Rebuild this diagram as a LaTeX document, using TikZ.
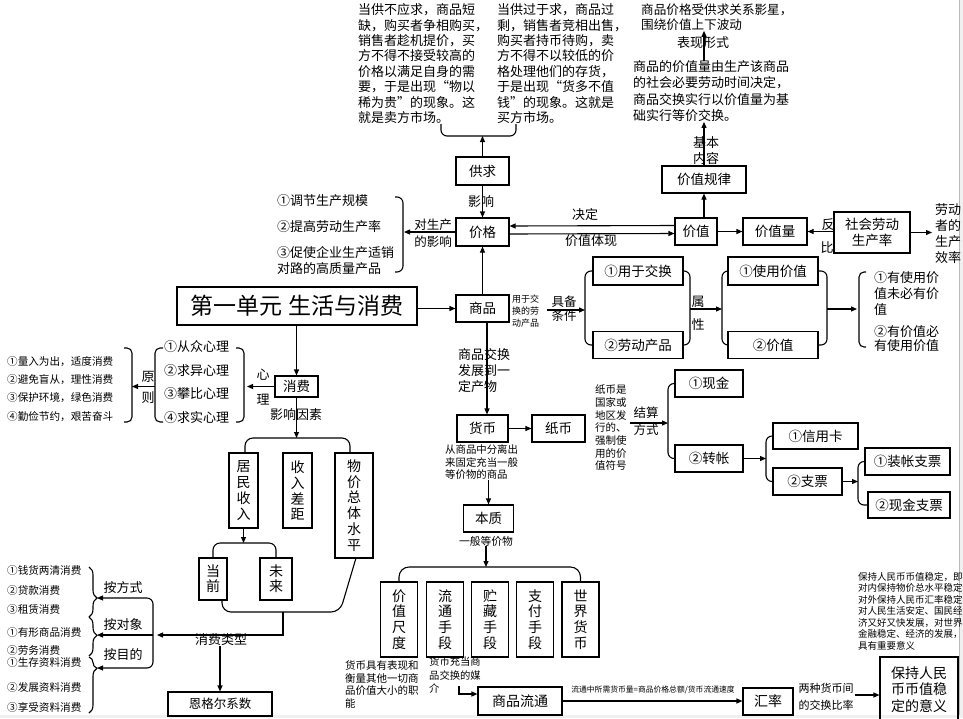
\documentclass[tikz,border=0pt]{standalone}
\usepackage{fontspec}
\setmainfont{Noto Sans CJK SC}
\usetikzlibrary{arrows.meta,decorations.pathreplacing}
\newcommand{\FZ}[2]{\fontsize{#1}{#2}\selectfont}
\begin{document}
\begin{tikzpicture}[x=1pt,y=-1pt,
 bx/.style={draw,line width=1.1pt,inner sep=0pt,align=center,font=\FZ{13.5}{16}},
 vb/.style={bx,font=\FZ{14}{15.8}},
 ar/.style={-{Triangle[length=6pt,width=5pt]},line width=1.1pt},
 ln/.style={line width=1.1pt},
 brk/.style={line width=1.1pt,rounded corners=6pt},
 tx/.style={inner sep=0pt,align=left},
 tc/.style={inner sep=0pt,align=center},
 t13/.style={tc,font=\FZ{13}{16}},
 s13/.style={inner sep=0pt,anchor=west,font=\FZ{13}{16}},
 s10/.style={inner sep=0pt,anchor=west,font=\FZ{10.6}{12}}]
\useasboundingbox (0,0) rectangle (963,718);
\clip (0,0) rectangle (963,718);
\fill[gray!12] (959,0) rectangle (963,718);
\draw[gray!55,line width=0.8pt] (959,0) -- (959,718);
\fill[gray!12] (0,715) rectangle (963,718);

% ---------- top: supply and demand ----------
\node[tx,anchor=north west,font=\FZ{13}{15.4}] (sd1) at (358,3.5) {当供不应求，商品短\\缺，购买者争相购买，\\销售者趁机提价，买\\方不得不接受较高的\\价格以满足自身的需\\要，于是出现“物以\\稀为贵”的现象。这\\就是卖方市场。};
\node[tx,anchor=north west,font=\FZ{13}{15.4}] (sd2) at (497,3.5) {当供过于求，商品过\\剩，销售者竞相出售，\\购买者持币待购，卖\\方不得不以较低的价\\格处理他们的存货，\\于是出现“货多不值\\钱”的现象。这就是\\买方市场。};
\draw[brk] (441,124) -- (441,136) -- (516,136) -- (516,124);
\coordinate (bmid) at (479,136);

\node[bx,minimum width=53pt,minimum height=28pt] (gq) at (482.5,171) {供求};
\node[bx,minimum width=53pt,minimum height=28pt] (jg) at (482.5,232) {价格};
\draw[ar] (gq.north) -- (gq.north |- bmid);
\node[t13] (yx) at (481,202) {影响};
\draw[ar] (gq.south) -- (jg.north);

% ---------- left of price ----------
\coordinate (lb) at (404,232);
\draw[ar] (jg.west) -- (lb);
\node[tc,font=\FZ{12.5}{17}] (dsc) at (433,233.5) {对生产\\的影响};
\draw[brk] (395,197) -- (403,197) -- (403,272) -- (395,272);
\node[s13] (i1) at (277,201) {①调节生产规模};
\node[s13] (i2) at (277,227) {②提高劳动生产率};
\node[tx,anchor=north west,font=\FZ{13}{16}] (i3) at (277,246.5) {③促使企业生产适销\\对路的高质量产品};

% ---------- value side ----------
\node[bx,minimum width=42pt,minimum height=27pt] (jz) at (696,231.5) {价值};
\draw[ar] ([yshift=-2pt]jg.east) -- ([yshift=-2pt]jz.west);
\draw[ar] ([yshift=6pt]jz.west) -- ([yshift=6pt]jg.east);
\node[t13] (jd) at (585,215) {决定};
\node[t13] (jztx) at (591,241) {价值体现};

\node[bx,minimum width=64pt,minimum height=27pt] (jzl) at (775,231.5) {价值量};
\node[bx,minimum width=76pt,minimum height=41pt] (sh) at (872,232.5) {社会劳动\\生产率};
\draw[ar] (jz) -- (jzl);
\draw[ar] (sh.west |- jzl.east) -- (jzl.east);
\node[t13] (fan) at (828,225) {反};
\node[t13] (bi) at (827,248) {比};
\coordinate (xl) at (932,232.5);
\draw[ar] (sh.east) -- (xl);
\node[tx,anchor=north west,font=\FZ{13}{16}] (ldz) at (935,203.5) {劳动\\者的\\生产\\效率};

\node[bx,minimum width=84pt,minimum height=27pt] (gl) at (704,179.5) {价值规律};
\draw[ar] (gl.south |- jz.north) -- (gl.south);
\node[tx,anchor=north west,font=\FZ{13}{16.3}] (nr) at (633,60.5) {商品的价值量由生产该商品\\的社会必要劳动时间决定，\\商品交换实行以价值量为基\\础实行等价交换。};
\draw[ar] (gl.north) -- (gl.north |- nr.south);
\node[tc,font=\FZ{13}{15.5}] (jbnr) at (706,150.5) {基本\\内容};
\node[tx,anchor=north west,font=\FZ{12.6}{15}] (bxt) at (641,3.7) {商品价格受供求关系影星，\\围绕价值上下波动};
\draw[ar] (gl.north |- nr.north) -- (gl.north |- bxt.south);
\node[t13] (bxxs) at (703,43) {表现形式};

% ---------- main & commodity ----------
\node[bx,minimum width=240pt,minimum height=38pt,font=\FZ{23}{26}] (main) at (297,306) {第一单元 生活与消费};
\node[bx,minimum width=53pt,minimum height=27pt] (sp) at (482.5,308.5) {商品};
\draw[ar] (main.east |- sp.west) -- (sp.west);
\draw[ar] (sp.north) -- (jg.south);

\node[tx,anchor=north west,font=\FZ{9}{12}] (yyjh) at (512,294.5) {用于交\\换的劳\\动产品};
\node[tc,font=\FZ{12.5}{13.5}] (jbtj) at (564,308.5) {具备\\条件};
\coordinate (g1l) at (585,310);
\draw[ar] (547,310) -- (g1l);

\node[bx,minimum width=90pt,minimum height=28pt] (yyjh1) at (638,271) {①用于交换};
\node[bx,minimum width=90pt,minimum height=27pt] (ldcp) at (638,345) {②劳动产品};
\draw[brk] (yyjh1.west) -- (585,271) -- (585,345) -- (ldcp.west);
\draw[brk] (yyjh1.east) -- (690,271) -- (690,345) -- (ldcp.east);
\coordinate (g2l) at (722,309);
\draw[ar] (690,309) -- (g2l);
\node[tc,font=\FZ{13}{23}] (sx) at (698,313.5) {属\\性};

\node[bx,minimum width=90pt,minimum height=28pt] (syjz) at (773,271) {①使用价值};
\node[bx,minimum width=90pt,minimum height=27pt] (jz2) at (773,345) {②价值};
\draw[brk] (syjz.west) -- (722,271) -- (722,345) -- (jz2.west);
\draw[brk] (syjz.east) -- (827,271) -- (827,345) -- (jz2.east);
\coordinate (g3l) at (857,309);
\draw[ar] (827,309) -- (g3l);
\draw[brk,rounded corners=5pt] (866,272) -- (859,272) -- (859,347) -- (866,347);
\node[tx,anchor=north west,font=\FZ{13}{16}] (yy1) at (874,271.5) {①有使用价\\值未必有价\\值};
\node[tx,anchor=north west,font=\FZ{13}{13.5}] (yy2) at (874,325.5) {②有价值必\\有使用价值};

% ---------- consumption ----------
\node[bx,minimum width=43pt,minimum height=21pt] (xf) at (296.5,386.5) {消费};
\draw[ar] (main.south -| xf.north) -- (xf.north);
\coordinate (xlb) at (247,386.5);
\draw[ar] (xf.west) -- (xlb);
\node[t13] (xin) at (263,375) {心};
\node[t13] (li) at (263,400) {理};
\draw[brk,rounded corners=5pt] (163,348) -- (155,348) -- (155,422) -- (163,422);
\draw[brk,rounded corners=5pt] (236,348) -- (244,348) -- (244,422) -- (236,422);
\node[s13] (x1) at (164,347) {①从众心理};
\node[s13] (x2) at (164,370.5) {②求异心理};
\node[s13] (x3) at (164,394) {③攀比心理};
\node[s13] (x4) at (164,417.5) {④求实心理};
\coordinate (ylb) at (132,386.5);
\draw[ar] (155,386.5) -- (ylb);
\node[t13] (yuan) at (148,377) {原};
\node[t13] (ze) at (148,398) {则};
\draw[brk,rounded corners=5pt] (124,348) -- (132,348) -- (132,422) -- (124,422);
\node[s10] (y1) at (7,362) {①量入为出，适度消费};
\node[s10] (y2) at (7,380) {②避免盲从，理性消费};
\node[s10] (y3) at (7,398) {③保护环境，绿色消费};
\node[s10] (y4) at (7,417) {④勤俭节约，艰苦奋斗};

\node[t13] (yxys) at (296,415) {影响因素};
\coordinate (fb) at (296.5,438);
\draw[ar] (xf.south) -- (fb);
\draw[brk,rounded corners=8pt] (245,453) -- (245,438) -- (350,438) -- (350,453);
\node[vb,minimum width=29pt,minimum height=75pt] (jmsr) at (243.5,490.5) {居\\民\\收\\入};
\node[vb,minimum width=29pt,minimum height=75pt] (srcj) at (297.5,490.5) {收\\入\\差\\距};
\node[vb,minimum width=38pt,minimum height=105pt] (wj) at (354,505.5) {物\\价\\总\\体\\水\\平};
\coordinate (jb) at (243.5,543);
\draw[ar] (jmsr.south) -- (jb);
\draw[brk,rounded corners=7pt] (213,558) -- (213,543) -- (276,543) -- (276,558);
\node[vb,minimum width=28pt,minimum height=42pt,font=\FZ{14}{15}] (dq) at (213,579) {当\\前};
\node[vb,minimum width=32pt,minimum height=42pt,font=\FZ{14}{15}] (wl) at (276,579) {未\\来};
\draw[brk,rounded corners=9pt] (222,600) -- (222,612) -- (340,612) -- (356,558);
\coordinate (stem) at (283,612);
\coordinate (bk) at (157,635);
\draw[ar] (stem) -- (283,635) -- (bk);
\node[t13] (xflx) at (221,640) {消费类型};
\node[bx,minimum width=104pt,minimum height=24pt,font=\FZ{12.5}{15}] (eg) at (220,704) {恩格尔系数};
\draw[ar] (eg.north |- xflx.south) -- (eg.north);

\draw[ln,{Triangle[length=6pt,width=5pt]}-{Triangle[length=6pt,width=5pt]},rounded corners=6pt] (97,598) -- (153,598) -- (153,668) -- (97,668);
\draw[ar] (153,635) -- (97,635);
\node[t13] (afs) at (123,588) {按方式};
\node[t13] (adx) at (123,625) {按对象};
\node[t13] (amd) at (123,655) {按目的};
\draw[ln,decorate,decoration={brace,amplitude=8pt,aspect=0.62}] (89,567) -- (89,617);
\draw[ln,decorate,decoration={brace,amplitude=8pt,aspect=0.47}] (89,617) -- (89,656);
\draw[ln,decorate,decoration={brace,amplitude=8pt,aspect=0.2}] (89,657) -- (89,713);
\node[s10] (c1) at (7,570) {①钱货两清消费};
\node[s10] (c2) at (7,590) {②贷款消费};
\node[s10] (c3) at (7,609) {③租赁消费};
\node[s10] (c4) at (7,632) {①有形商品消费};
\node[s10] (c5) at (7,650) {②劳务消费};
\node[s10] (c6) at (7,662) {①生存资料消费};
\node[s10] (c7) at (7,687) {②发展资料消费};
\node[s10] (c8) at (7,707) {③享受资料消费};

% ---------- money ----------
\node[bx,minimum width=51pt,minimum height=27pt] (hb) at (482.5,428.5) {货币};
\draw[ar] ([xshift=4.5pt]sp.south) -- ([xshift=4.5pt]hb.north);
\node[tx,anchor=north west,font=\FZ{13}{16}] (spjh) at (458,348.5) {商品交换\\发展到一\\定产物};
\node[bx,minimum width=53pt,minimum height=27pt] (zb) at (558.5,428.5) {纸币};
\draw[ar] (hb) -- (zb);
\node[tx,anchor=north west,font=\FZ{10.4}{12.5}] (flc) at (445,444.8) {从商品中分离出\\来固定充当一般\\等价物的商品};
\node[bx,minimum width=50pt,minimum height=27pt] (bz) at (488.5,518.5) {本质};
\draw[ar] (bz.north |- flc.south) -- (bz.north);
\node[tc,font=\FZ{10.8}{12}] (ybdj) at (486,541) {一般等价物};
\coordinate (fb2) at (486,567);
\draw[ar] (ybdj.south -| fb2) -- (fb2);
\draw[brk,rounded corners=10pt] (399,582) -- (399,567) -- (580.5,567) -- (580.5,582);
\node[vb,minimum width=37pt,minimum height=75pt] (f1) at (399,619.5) {价\\值\\尺\\度};
\node[vb,minimum width=37pt,minimum height=75pt] (f2) at (445,619.5) {流\\通\\手\\段};
\node[vb,minimum width=37pt,minimum height=75pt] (f3) at (490,619.5) {贮\\藏\\手\\段};
\node[vb,minimum width=37pt,minimum height=75pt] (f4) at (535,619.5) {支\\付\\手\\段};
\node[vb,minimum width=37pt,minimum height=75pt] (f5) at (580.5,619.5) {世\\界\\货\\币};
\node[tx,anchor=north west,font=\FZ{10.5}{12.5}] (d1) at (345,660.7) {货币具有表现和\\衡量其他一切商\\品价值大小的职\\能};
\node[tx,anchor=north west,font=\FZ{10.3}{13.5}] (d2) at (429,656.8) {货币充当商\\品交换的媒\\介};
\node[bx,minimum width=84pt,minimum height=28pt,font=\FZ{14}{16}] (lt) at (520,701) {商品流通};
\coordinate (hk) at (459,686);
\draw[ar] (hk) |- ([yshift=7pt]lt.west);
\node[bx,minimum width=50pt,minimum height=27pt,font=\FZ{14}{16}] (hl) at (768,701.5) {汇率};
\draw[ar] (lt.east) -- (hl.west |- lt.east);
\node[tc,font=\FZ{7.8}{9}] (gs) at (653,690) {流通中所需货币量=商品价格总额/货币流通速度};
\node[tc,font=\FZ{11}{17}] (lz) at (826,696.5) {两种货币间\\的交换比率};
\node[bx,minimum width=78pt,minimum height=65pt,font=\FZ{14}{16.5}] (bc) at (919,689.5) {保持人民\\币币值稳\\定的意义};
\coordinate (ha) at (855,695);
\draw[ar] (ha) -- (bc.west |- ha);
\node[tx,anchor=north west,font=\FZ{9.5}{11.5}] (yy) at (858,572.2) {保持人民币币值稳定，即\\对内保持物价总水平稳定\\对外保持人民币汇率稳定\\对人民生活安定、国民经\\济又好又快发展，对世界\\金融稳定、经济的发展，\\具有重要意义};

% ---------- settlement ----------
\node[tx,anchor=north west,font=\FZ{10.5}{12.7}] (zbs) at (595,384.7) {纸币是\\国家或\\地区发\\行的、\\强制使\\用的价\\值符号};
\coordinate (js) at (668,423);
\draw[ar] (630,423) -- (js);
\node[tc,font=\FZ{12.5}{17}] (jsfs) at (646,421.5) {结算\\方式};
\node[bx,minimum width=68pt,minimum height=27pt] (xj) at (709,383.5) {①现金};
\node[bx,minimum width=68pt,minimum height=27pt] (zz) at (709,458.5) {②转帐};
\draw[brk] (xj.west) -- (668,383.5) -- (668,458.5) -- (zz.west);
\coordinate (zzb) at (766,458.5);
\draw[ar] (zz.east) -- (zzb);
\node[bx,minimum width=85pt,minimum height=26pt] (xyk) at (815.5,436) {①信用卡};
\node[bx,minimum width=69pt,minimum height=27pt] (zp) at (807.5,481.5) {②支票};
\draw[brk] (xyk.west) -- (766,436) -- (766,481.5) -- (zp.west);
\coordinate (zpb) at (858,481.5);
\draw[ar] (zp.east) -- (zpb);
\node[bx,minimum width=85pt,minimum height=27pt] (zzzp) at (907.5,461.5) {①装帐支票};
\node[bx,minimum width=82pt,minimum height=26pt] (xjzp) at (909,505) {②现金支票};
\draw[brk] (zzzp.west) -- (858,461.5) -- (858,505) -- (xjzp.west);
\end{tikzpicture}
\end{document}
